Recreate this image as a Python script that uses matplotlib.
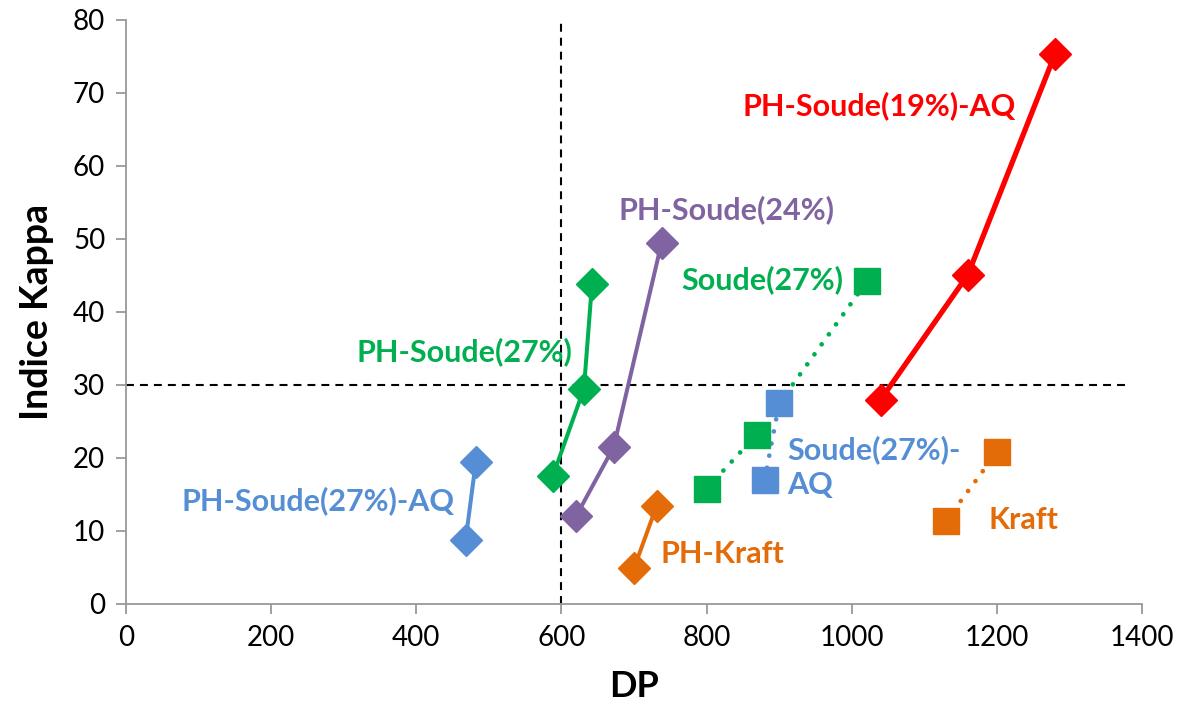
import matplotlib
matplotlib.use("Agg")
import matplotlib.pyplot as plt

plt.rcParams['font.family'] = ['Lato', 'DejaVu Sans']

# Data (DP, Kappa)
ph_soude19_aq_x = [1040, 1160, 1280]
ph_soude19_aq_y = [28.0, 45.1, 75.3]
ph_soude24_x = [620, 672, 738]
ph_soude24_y = [12.0, 21.5, 49.5]
ph_soude27_x = [588, 631, 642]
ph_soude27_y = [17.5, 29.5, 43.8]
ph_soude27_aq_x = [468, 482]
ph_soude27_aq_y = [8.8, 19.5]
ph_kraft_x = [700, 731]
ph_kraft_y = [4.9, 13.4]
soude27_x = [800, 869, 1021]
soude27_y = [15.8, 23.2, 44.2]
soude27_aq_x = [880, 900]
soude27_aq_y = [17.0, 27.5]
kraft_x = [1130, 1200]
kraft_y = [11.4, 20.8]

RED = '#FF0000'
PURPLE = '#8064A2'
GREEN = '#00B050'
BLUE = '#558ED5'
ORANGE = '#E36C09'

fig = plt.figure(figsize=(11.88, 7.13), dpi=100)
ax = fig.add_axes([0.1061, 0.1529, 0.9613 - 0.1061, 0.972 - 0.1529])

# reference lines
ax.plot([600, 600], [0, 80], ls=(0, (3.8, 2.9)), color='black', lw=1.5, zorder=1)
ax.plot([0, 1380], [30, 30], ls=(0, (3.8, 2.9)), color='black', lw=1.5, zorder=1)

dms = 16
sms = 19
ax.plot(ph_soude19_aq_x, ph_soude19_aq_y, '-D', color=RED, lw=3.8, ms=dms, zorder=3)
ax.plot(ph_soude24_x, ph_soude24_y, '-D', color=PURPLE, lw=2.9, ms=dms, zorder=3)
ax.plot(ph_soude27_x, ph_soude27_y, '-D', color=GREEN, lw=2.9, ms=dms, zorder=3)
ax.plot(ph_soude27_aq_x, ph_soude27_aq_y, '-D', color=BLUE, lw=2.9, ms=dms, zorder=3)
ax.plot(ph_kraft_x, ph_kraft_y, '-D', color=ORANGE, lw=2.9, ms=dms, zorder=3)

dot = (0, (0.01, 2.6))
ax.plot(soude27_x, soude27_y, ls=dot, color=GREEN, lw=3.4, dash_capstyle='round', zorder=2)
ax.plot(soude27_x, soude27_y, 's', color=GREEN, ms=sms, zorder=3)
ax.plot(soude27_aq_x, soude27_aq_y, ls=dot, color=BLUE, lw=3.4, dash_capstyle='round', zorder=2)
ax.plot(soude27_aq_x, soude27_aq_y, 's', color=BLUE, ms=sms, zorder=3)
ax.plot(kraft_x, kraft_y, ls=dot, color=ORANGE, lw=3.4, dash_capstyle='round', zorder=2)
ax.plot(kraft_x, kraft_y, 's', color=ORANGE, ms=sms, zorder=3)

fs = 22
kw = dict(fontsize=fs, fontweight='bold', va='center', ha='left')
ax.text(849, 68.2, 'PH-Soude(19%)-AQ', color=RED, **kw)
ax.text(678, 54.0, 'PH-Soude(24%)', color=PURPLE, **kw)
ax.text(765, 44.4, 'Soude(27%)', color=GREEN, **kw)
ax.text(318, 34.5, 'PH-Soude(27%)', color=GREEN, **kw)
ax.text(77, 14.2, 'PH-Soude(27%)-AQ', color=BLUE, **kw)
ax.text(911, 18.8, 'Soude(27%)-\nAQ', color=BLUE, fontsize=fs, fontweight='bold',
        va='center', ha='left', linespacing=1.3)
ax.text(737, 6.8, 'PH-Kraft', color=ORANGE, **kw)
ax.text(1188, 11.5, 'Kraft', color=ORANGE, **kw)

ax.set_xlim(0, 1400)
ax.set_ylim(0, 80)
ax.set_xticks(range(0, 1401, 200))
ax.set_yticks(range(0, 81, 10))
for s in ['top', 'right']:
    ax.spines[s].set_visible(False)
for s in ['left', 'bottom']:
    ax.spines[s].set_color('#999999')
    ax.spines[s].set_linewidth(1.3)
ax.tick_params(axis='both', colors='#999999', labelcolor='black', labelsize=20,
               length=7, width=1.3, direction='out')
ax.tick_params(axis='x', pad=8)
ax.tick_params(axis='y', pad=8)
ax.set_xlabel('DP', fontsize=26, fontweight='bold', labelpad=14)
ax.set_ylabel('Indice Kappa', fontsize=27, fontweight='bold', labelpad=14)

fig.savefig('out.png', dpi=100)
